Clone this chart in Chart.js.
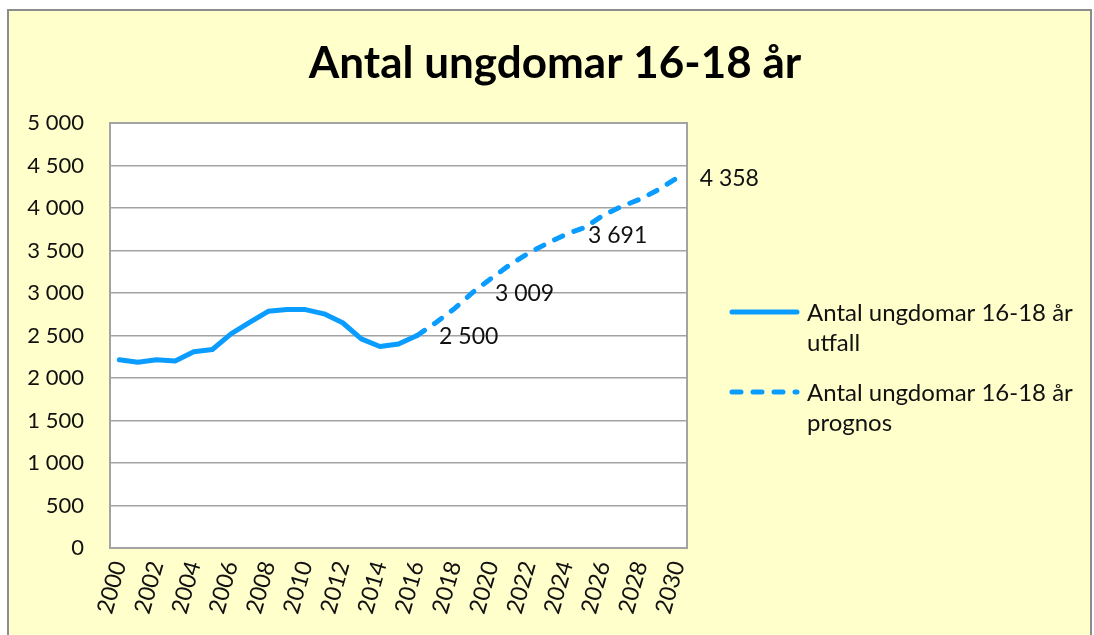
<!DOCTYPE html>
<html lang="sv">
<head>
  <meta charset="UTF-8" />
  <title>Antal ungdomar 16-18 år</title>
  <script src="https://cdn.jsdelivr.net/npm/chart.js"></script>
  <style>
    body { margin: 0; background: #fff; }
    #frame {
      position: absolute; left: 7px; top: 9px; width: 1081px; height: 640px;
      border: 2px solid #8c8c8c; border-bottom: none; background: #ffffcc;
    }
    #c { position: absolute; left: 0; top: 0; }
  </style>
</head>
<body>
  <div id="frame"></div>
  <canvas id="c" width="1094" height="635"></canvas>

  <script>
    const years = [2000, 2001, 2002, 2003, 2004, 2005, 2006, 2007, 2008, 2009, 2010,
                   2011, 2012, 2013, 2014, 2015, 2016, 2017, 2018, 2019, 2020,
                   2021, 2022, 2023, 2024, 2025, 2026, 2027, 2028, 2029, 2030];
    // utfall 2000-2016
    const utfall = [2215, 2185, 2215, 2200, 2310, 2335, 2520, 2655, 2785, 2805, 2805,
                    2755, 2650, 2460, 2370, 2400, 2500];
    // prognos 2016-2030
    const prognos = [2500, 2650, 2815, 3009, 3175, 3335, 3470, 3585, 3691,
                     3770, 3915, 4020, 4105, 4220, 4358];
    const prognosStart = 2016;
    const labelYears = [2016, 2019, 2024, 2030];
    const seriesNames = ["Antal ungdomar 16-18 år utfall", "Antal ungdomar 16-18 år prognos"];
    const yTicks = [0, 500, 1000, 1500, 2000, 2500, 3000, 3500, 4000, 4500, 5000];
    const titleText = "Antal ungdomar 16-18 år";

    const blue = "#0a9cff";
    const gridCol = "#a3a3a3";
    const font = "Lato, 'Open Sans', sans-serif";

    const fmt = v => String(v).replace(/\B(?=(\d{3})+(?!\d))/g, " ");

    const utfallData = years.map((y, i) => i < utfall.length ? utfall[i] : null);
    const prognosData = years.map(y => y >= prognosStart ? prognos[y - prognosStart] : null);

    // white plot area + frame around it
    const plotArea = {
      id: "plotArea",
      beforeDraw(chart) {
        const a = chart.chartArea, ctx = chart.ctx;
        ctx.save();
        ctx.fillStyle = "#fff";
        ctx.fillRect(a.left, a.top, a.right - a.left, a.bottom - a.top);
        ctx.restore();
      },
      beforeDatasetsDraw(chart) {
        const a = chart.chartArea, ctx = chart.ctx;
        ctx.save();
        ctx.strokeStyle = gridCol;
        ctx.lineWidth = 2;
        ctx.strokeRect(a.left, a.top, a.right - a.left, a.bottom - a.top);
        ctx.restore();
      }
    };

    // title centred on the whole frame
    const bigTitle = {
      id: "bigTitle",
      afterDraw(chart) {
        const ctx = chart.ctx;
        ctx.save();
        ctx.font = "bold 44px " + font;
        ctx.fillStyle = "#000";
        ctx.textAlign = "center";
        ctx.textBaseline = "alphabetic";
        ctx.fillText(titleText, 555, 78);
        ctx.restore();
      }
    };

    // value labels on the prognos line
    const valueLabels = {
      id: "valueLabels",
      afterDatasetsDraw(chart) {
        const meta = chart.getDatasetMeta(1), ctx = chart.ctx;
        ctx.save();
        ctx.font = "23px " + font;
        ctx.fillStyle = "#111";
        ctx.textBaseline = "middle";
        labelYears.forEach(y => {
          const i = years.indexOf(y);
          const pt = meta.data[i];
          ctx.fillText(fmt(prognosData[i]), pt.x + 22, pt.y + 1);
        });
        ctx.restore();
      }
    };

    // legend on the right, wrapped text
    const sideLegend = {
      id: "sideLegend",
      afterDraw(chart) {
        const ctx = chart.ctx;
        const rows = [312, 392];
        ctx.save();
        ctx.font = "24px " + font;
        ctx.fillStyle = "#111";
        chart.data.datasets.forEach((ds, k) => {
          const y = rows[k];
          ctx.strokeStyle = ds.borderColor;
          ctx.lineWidth = ds.borderWidth;
          ctx.lineCap = "round";
          ctx.setLineDash(ds.borderDash || []);
          ctx.beginPath();
          ctx.moveTo(732, y);
          ctx.lineTo(797, y);
          ctx.stroke();
          ctx.setLineDash([]);
          const words = ds.label.split(" ");
          const lines = [];
          let cur = "";
          words.forEach(w => {
            const t = cur ? cur + " " + w : w;
            if (ctx.measureText(t).width > 275 && cur) { lines.push(cur); cur = w; }
            else cur = t;
          });
          lines.push(cur);
          lines.forEach((ln, j) => ctx.fillText(ln, 807, y + 9 + j * 30));
        });
        ctx.restore();
      }
    };

    new Chart(document.getElementById("c"), {
      type: "line",
      data: {
        labels: years,
        datasets: [
          {
            label: seriesNames[0],
            data: utfallData,
            borderColor: blue,
            borderWidth: 5,
            pointRadius: 0,
            tension: 0,
            borderCapStyle: "round",
            borderJoinStyle: "round"
          },
          {
            label: seriesNames[1],
            data: prognosData,
            borderColor: blue,
            borderWidth: 5,
            borderDash: [9, 12],
            pointRadius: 0,
            tension: 0,
            borderCapStyle: "round",
            borderJoinStyle: "round"
          }
        ]
      },
      plugins: [plotArea, valueLabels, sideLegend, bigTitle],
      options: {
        responsive: false,
        animation: false,
        layout: { padding: { left: 0, right: 407, top: 123, bottom: 0 } },
        plugins: {
          legend: { display: false },
          tooltip: { enabled: false },
          title: { display: false }
        },
        scales: {
          x: {
            offset: true,
            grid: { display: false },
            border: { display: false },
            afterFit(s) { s.height = 87; },
            ticks: {
              autoSkip: false,
              maxRotation: 74,
              minRotation: 74,
              padding: 2,
              color: "#111",
              font: { family: font, size: 23 },
              callback: (v, i) => (i % 2 === 0 ? String(years[i]) : "")
            }
          },
          y: {
            min: 0,
            max: 5000,
            afterFit(s) { s.width = 110; },
            afterBuildTicks(s) { s.ticks = yTicks.map(v => ({ value: v })); },
            grid: { color: gridCol, lineWidth: 1.5, drawTicks: false },
            border: { display: false },
            ticks: {
              padding: 26,
              color: "#111",
              font: { family: font, size: 22 },
              callback: v => fmt(v)
            }
          }
        }
      }
    });
  </script>
</body>
</html>
